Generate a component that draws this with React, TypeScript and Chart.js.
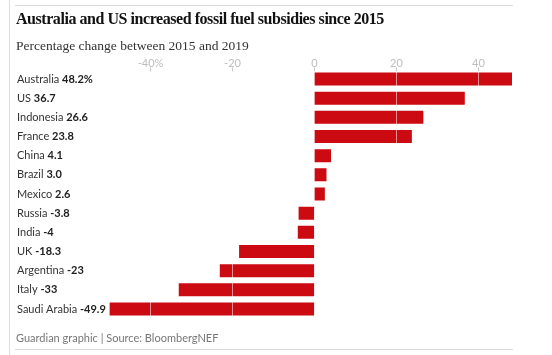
import React, { useEffect, useRef } from "react";
import { Chart, registerables } from "chart.js";

Chart.register(...registerables);

const categories = ["Australia", "US", "Indonesia", "France", "China", "Brazil", "Mexico", "Russia", "India", "UK", "Argentina", "Italy", "Saudi Arabia"];
const values = [48.2, 36.7, 26.6, 23.8, 4.1, 3.0, 2.6, -3.8, -4, -18.3, -23, -33, -49.9];
const valueLabels = ["48.2%", "36.7", "26.6", "23.8", "4.1", "3.0", "2.6", "-3.8", "-4", "-18.3", "-23", "-33", "-49.9"];
const tickValues = [-40, -20, 0, 20, 40];

const TITLE = "Australia and US increased fossil fuel subsidies since 2015";
const SUBTITLE = "Percentage change between 2015 and 2019";
const FOOTER = "Guardian graphic | Source: BloombergNEF";

const SANS = "Lato, 'Liberation Sans', sans-serif";
const SERIF = "'Liberation Serif', 'DejaVu Serif', serif";

const fmtTick = (v: number) => (v === -40 ? "-40%" : String(v));

const overlayPlugin = {
  id: "overlay",
  afterDatasetsDraw(chart: any) {
    const { ctx, chartArea } = chart;
    const xs = chart.scales.x;
    const ys = chart.scales.y;
    ctx.save();
    xs.ticks.forEach((t: any) => {
      const x = Math.round(xs.getPixelForValue(t.value)) + 0.5;
      ctx.strokeStyle = "rgba(255,255,255,0.55)";
      ctx.lineWidth = 1;
      ctx.beginPath();
      ctx.moveTo(x, chartArea.top);
      ctx.lineTo(x, chartArea.bottom);
      ctx.stroke();
      ctx.strokeStyle = "#c8c8c8";
      ctx.beginPath();
      ctx.moveTo(x, chartArea.top - 2);
      ctx.lineTo(x, chartArea.top + 2);
      ctx.stroke();
      ctx.font = `11px ${SANS}`;
      ctx.fillStyle = "#bdbdbd";
      ctx.textAlign = "center";
      ctx.textBaseline = "middle";
      ctx.fillText(fmtTick(t.value), x, chartArea.top - 6);
    });
    ctx.textAlign = "left";
    ctx.textBaseline = "middle";
    categories.forEach((c, i) => {
      const y = ys.getPixelForValue(i);
      ctx.font = `11px ${SANS}`;
      ctx.fillStyle = "#333333";
      ctx.fillText(c + " ", 17, y);
      const w = ctx.measureText(c + " ").width;
      ctx.font = `bold 11px ${SANS}`;
      ctx.fillStyle = "#222222";
      ctx.fillText(valueLabels[i], 17 + w, y);
    });
    ctx.restore();
  },
};

export default function App() {
  const ref = useRef<HTMLCanvasElement>(null);
  useEffect(() => {
    if (!ref.current) return;
    const chart = new Chart(ref.current, {
      type: "bar",
      data: {
        labels: categories,
        datasets: [
          {
            data: values,
            backgroundColor: "#cc0a12",
            barPercentage: 0.68,
            categoryPercentage: 1,
          },
        ],
      },
      options: {
        indexAxis: "y",
        responsive: false,
        animation: false,
        layout: { padding: { left: 109.4, right: 40, top: 69.4, bottom: 36.4 } },
        plugins: { legend: { display: false }, tooltip: { enabled: false } },
        scales: {
          x: {
            position: "top",
            min: -49.9,
            max: 48.2,
            afterBuildTicks: (axis: any) => {
              axis.ticks = tickValues.map((v) => ({ value: v }));
            },
            ticks: { display: false, padding: 0 },
            grid: { display: false, drawTicks: false },
            border: { display: false },
          },
          y: { display: false },
        },
      },
      plugins: [overlayPlugin],
    });
    return () => chart.destroy();
  }, []);

  return (
    <div style={{ position: "absolute", left: 0, top: 0, width: 552, height: 355, background: "#fff", overflow: "hidden" }}>
      <div style={{ position: "absolute", left: 9, top: 0, width: 1, height: 355, background: "#dcdcdc" }} />
      <div style={{ position: "absolute", left: 15, top: 5, width: 498, height: 1, background: "#dcdcdc" }} />
      <div style={{ position: "absolute", left: 15, top: 349, width: 498, height: 1, background: "#dcdcdc" }} />
      <canvas ref={ref} width={552} height={355} style={{ position: "absolute", left: 0, top: 0, width: 552, height: 355 }} />
      <div style={{ position: "absolute", left: 16, top: 10, font: `bold 16px ${SERIF}`, color: "#121212", whiteSpace: "nowrap", letterSpacing: "-0.45px" }}>{TITLE}</div>
      <div style={{ position: "absolute", left: 16, top: 38, font: `13.5px ${SERIF}`, color: "#333", whiteSpace: "nowrap" }}>{SUBTITLE}</div>
      <div style={{ position: "absolute", left: 16, top: 331, font: `11px ${SANS}`, color: "#767676", whiteSpace: "nowrap" }}>{FOOTER}</div>
    </div>
  );
}
